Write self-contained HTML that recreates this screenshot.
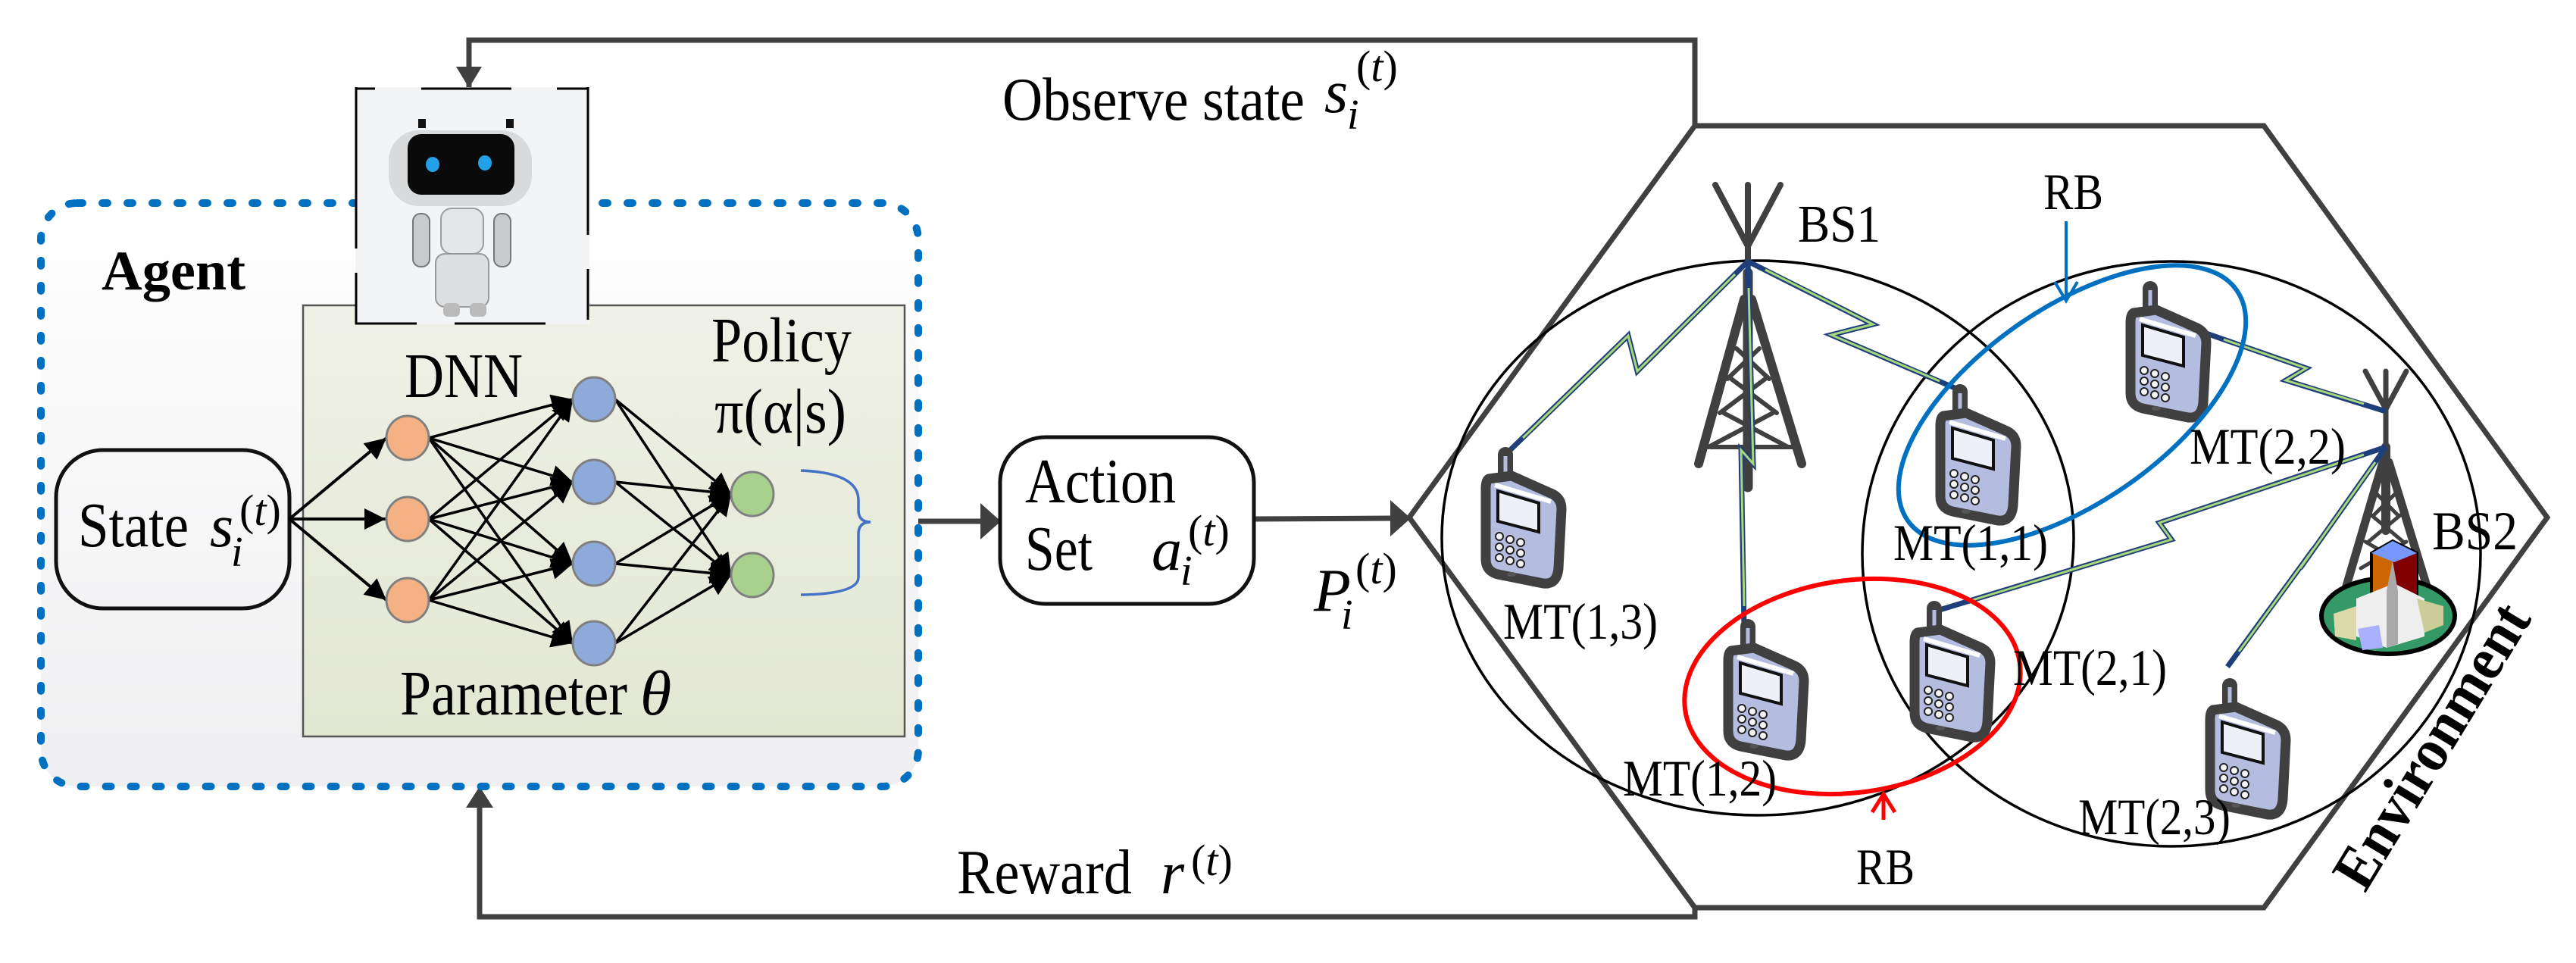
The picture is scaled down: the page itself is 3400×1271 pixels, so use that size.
<!DOCTYPE html>
<html><head><meta charset="utf-8"><style>html,body{margin:0;padding:0;background:#fff}svg{display:block}svg text{font-family:"Liberation Serif","Times New Roman",serif}</style></head><body>
<svg width="3400" height="1271" viewBox="0 0 3400 1271" xmlns="http://www.w3.org/2000/svg">
<defs>
<linearGradient id="ag" x1="0" y1="0" x2="0" y2="1"><stop offset="0" stop-color="#ffffff"/><stop offset="1" stop-color="#efeff1"/></linearGradient>
<linearGradient id="gg" x1="0" y1="0" x2="0" y2="1"><stop offset="0" stop-color="#eff1e6"/><stop offset="1" stop-color="#e2e7d2"/></linearGradient>
<marker id="bh" viewBox="0 0 10 10" refX="10" refY="5" markerWidth="36" markerHeight="28" orient="auto" markerUnits="userSpaceOnUse"><path d="M0,0 L10,5 L0,10 Z" fill="#000"/></marker>
<g id="phone">
<line x1="0" y1="0" x2="0" y2="34" stroke="#404040" stroke-width="20" stroke-linecap="round"/>
<line x1="0" y1="2" x2="0" y2="30" stroke="#b4bce0" stroke-width="5"/>
<path d="M-22,32 L8,28 L62,52 Q74,58 74,72 L70,150 Q68,172 50,170 L-10,158 Q-26,154 -26,138 L-26,45 Q-26,34 -22,32 Z" fill="#b4bce0" stroke="#404040" stroke-width="13" stroke-linejoin="round"/>
<path d="M-14,40 L60,62" stroke="#fff" stroke-width="6"/>
<polygon points="-10,48 44,64 44,102 -10,88" fill="#eef0f8" stroke="#111" stroke-width="4"/>
<g fill="#f4f4f4" stroke="#222" stroke-width="2">
<circle cx="-8" cy="108" r="5"/><circle cx="6" cy="112" r="5"/><circle cx="20" cy="116" r="5"/>
<circle cx="-8" cy="122" r="5"/><circle cx="6" cy="126" r="5"/><circle cx="20" cy="130" r="5"/>
<circle cx="-8" cy="136" r="5"/><circle cx="6" cy="140" r="5"/><circle cx="20" cy="144" r="5"/>
</g>
<ellipse cx="8" cy="158" rx="6" ry="3" fill="#555"/>
</g>
</defs>

<g stroke="#404040" stroke-width="7" fill="none">
<polyline points="619,118 619,53 2237,53 2237,166"/>
<polyline points="633,1062 633,1210 2237,1210 2237,1198"/>
<line x1="1149" y1="688" x2="1296" y2="688"/>
<line x1="1655" y1="685" x2="1838" y2="684"/>
</g>
<polygon points="602,88 636,88 619,116" fill="#404040"/>
<polygon points="615,1066 651,1066 633,1038" fill="#404040"/>
<polygon points="1294,664 1294,712 1321,688" fill="#404040"/>
<polygon points="1835,660 1835,708 1862,684" fill="#404040"/>

<rect x="54" y="268" width="1158" height="770" rx="48" fill="url(#ag)" stroke="#0070c0" stroke-width="10" stroke-dasharray="7 26" stroke-linecap="round"/>
<text x="134" y="382" font-size="74" font-weight="bold" textLength="190" lengthAdjust="spacingAndGlyphs">Agent</text>

<rect x="400" y="403" width="794" height="569" fill="url(#gg)" stroke="#555" stroke-width="2.5"/>

<!-- robot -->
<rect x="469" y="115" width="309" height="313" fill="#f2f4f6"/>
<g stroke="#000" stroke-width="3" fill="none">
<line x1="469" y1="117" x2="495" y2="117"/><line x1="556" y1="117" x2="675" y2="117"/><line x1="735" y1="117" x2="777" y2="117"/>
<line x1="470" y1="115" x2="470" y2="328"/><line x1="470" y1="360" x2="470" y2="428"/>
<line x1="776" y1="115" x2="776" y2="310"/><line x1="776" y1="355" x2="776" y2="422"/>
<line x1="469" y1="427" x2="550" y2="427"/><line x1="600" y1="427" x2="720" y2="427"/>
</g>
<rect x="552" y="157" width="10" height="12" fill="#111"/><rect x="668" y="157" width="10" height="12" fill="#111"/>
<rect x="513" y="172" width="189" height="100" rx="40" fill="#d8dadc"/>
<rect x="538" y="177" width="141" height="80" rx="18" fill="#0a0a0a"/>
<ellipse cx="571" cy="217" rx="9" ry="10" fill="#22a0e8"/><ellipse cx="640" cy="215" rx="9" ry="10" fill="#22a0e8"/>
<rect x="582" y="275" width="56" height="60" rx="14" fill="#e4e6e8" stroke="#9a9ea2" stroke-width="2"/>
<rect x="575" y="335" width="70" height="70" rx="12" fill="#dcdfe2" stroke="#999" stroke-width="2"/>
<rect x="545" y="282" width="22" height="70" rx="10" fill="#c8cbce" stroke="#777" stroke-width="2"/>
<rect x="652" y="282" width="22" height="70" rx="10" fill="#c8cbce" stroke="#777" stroke-width="2"/>
<rect x="585" y="400" width="22" height="18" rx="6" fill="#bbb"/><rect x="620" y="400" width="22" height="18" rx="6" fill="#bbb"/>

<rect x="74" y="594" width="308" height="209" rx="62" fill="none" stroke="#111" stroke-width="5"/>
<text x="103" y="721" font-size="84" textLength="146" lengthAdjust="spacingAndGlyphs">State</text>
<text x="277" y="721" font-size="80" font-style="italic">s</text>
<text x="305" y="747" font-size="56" font-style="italic">i</text>
<text x="316" y="693" font-size="58">(<tspan font-style="italic">t</tspan>)</text>

<g stroke="#000" stroke-width="4" marker-end="url(#bh)">
<line x1="382" y1="685" x2="510" y2="578"/>
<line x1="382" y1="685" x2="509" y2="685"/>
<line x1="382" y1="685" x2="510" y2="792"/>
</g>
<g stroke="#000" stroke-width="3.5" marker-end="url(#bh)">
<line x1="566" y1="578" x2="756" y2="527"/><line x1="566" y1="578" x2="756" y2="636"/><line x1="566" y1="578" x2="756" y2="744"/><line x1="566" y1="578" x2="756" y2="849"/>
<line x1="566" y1="685" x2="756" y2="527"/><line x1="566" y1="685" x2="756" y2="636"/><line x1="566" y1="685" x2="756" y2="744"/><line x1="566" y1="685" x2="756" y2="849"/>
<line x1="566" y1="792" x2="756" y2="527"/><line x1="566" y1="792" x2="756" y2="636"/><line x1="566" y1="792" x2="756" y2="744"/><line x1="566" y1="792" x2="756" y2="849"/>
<line x1="812" y1="527" x2="965" y2="652"/><line x1="812" y1="527" x2="965" y2="759"/>
<line x1="812" y1="636" x2="965" y2="652"/><line x1="812" y1="636" x2="965" y2="759"/>
<line x1="812" y1="744" x2="965" y2="652"/><line x1="812" y1="744" x2="965" y2="759"/>
<line x1="812" y1="849" x2="965" y2="652"/><line x1="812" y1="849" x2="965" y2="759"/>
</g>
<g stroke="#808080" stroke-width="3">
<ellipse cx="538" cy="578" rx="28" ry="29" fill="#f4b183"/><ellipse cx="538" cy="685" rx="28" ry="29" fill="#f4b183"/><ellipse cx="538" cy="792" rx="28" ry="29" fill="#f4b183"/>
<ellipse cx="784" cy="527" rx="28" ry="29" fill="#8eaadb"/><ellipse cx="784" cy="636" rx="28" ry="29" fill="#8eaadb"/><ellipse cx="784" cy="744" rx="28" ry="29" fill="#8eaadb"/><ellipse cx="784" cy="849" rx="28" ry="29" fill="#8eaadb"/>
<ellipse cx="993" cy="652" rx="28" ry="29" fill="#a9d18e"/><ellipse cx="993" cy="759" rx="28" ry="29" fill="#a9d18e"/>
</g>
<path d="M1057,621 Q1133,624 1133,660 L1133,673 Q1133,689 1149,689 Q1133,689 1133,705 L1133,762 Q1133,784 1057,785" fill="none" stroke="#4472c4" stroke-width="3.5"/>
<text x="534" y="524" font-size="84" textLength="156" lengthAdjust="spacingAndGlyphs">DNN</text>
<text x="939" y="477" font-size="84" textLength="185" lengthAdjust="spacingAndGlyphs">Policy</text>
<text x="943" y="571" font-size="84" textLength="174" lengthAdjust="spacingAndGlyphs">π(α|s)</text>
<text x="528" y="943" font-size="84" textLength="300" lengthAdjust="spacingAndGlyphs">Parameter</text>
<text x="845" y="943" font-size="84" font-style="italic">θ</text>

<rect x="1320" y="577" width="335" height="220" rx="60" fill="#fff" stroke="#111" stroke-width="5"/>
<text x="1353" y="663" font-size="84" textLength="199" lengthAdjust="spacingAndGlyphs">Action</text>
<text x="1353" y="752" font-size="84" textLength="89" lengthAdjust="spacingAndGlyphs">Set</text>
<text x="1520" y="752" font-size="80" font-style="italic">a</text>
<text x="1558" y="772" font-size="56" font-style="italic">i</text>
<text x="1568" y="720" font-size="58">(<tspan font-style="italic">t</tspan>)</text>

<text x="1734" y="806" font-size="80" font-style="italic">P</text>
<text x="1770" y="830" font-size="56" font-style="italic">i</text>
<text x="1789" y="770" font-size="58">(<tspan font-style="italic">t</tspan>)</text>

<text x="1323" y="158" font-size="80" textLength="399" lengthAdjust="spacingAndGlyphs">Observe state</text>
<text x="1748" y="148" font-size="80" font-style="italic">s</text>
<text x="1778" y="170" font-size="56" font-style="italic">i</text>
<text x="1790" y="107" font-size="58">(<tspan font-style="italic">t</tspan>)</text>
<text x="1263" y="1179" font-size="84" textLength="231" lengthAdjust="spacingAndGlyphs">Reward</text>
<text x="1532" y="1179" font-size="80" font-style="italic">r</text>
<text x="1572" y="1155" font-size="58">(<tspan font-style="italic">t</tspan>)</text>

<polygon points="2237,166 2988,166 3362,683 2988,1198 2237,1198 1860,683" fill="none" stroke="#404040" stroke-width="7"/>

<ellipse cx="2320" cy="710" rx="417" ry="366" fill="none" stroke="#000" stroke-width="3.5"/>
<ellipse cx="2866" cy="731" rx="408" ry="386" fill="none" stroke="#000" stroke-width="3.5"/>

<g stroke="#404040" stroke-linecap="round" fill="none">
<line x1="2264" y1="244" x2="2307" y2="325" stroke-width="8"/><line x1="2350" y1="244" x2="2307" y2="325" stroke-width="8"/><line x1="2307" y1="244" x2="2307" y2="345" stroke-width="8"/>
<line x1="2307" y1="360" x2="2307" y2="643" stroke-width="13"/>
<path d="M2302,395 L2242,612 M2312,395 L2378,612" stroke-width="12"/>
<path d="M2292,460 L2335,500 M2322,460 L2280,500 M2285,500 L2345,545 M2330,500 L2270,545 M2275,545 L2360,590 M2340,545 L2255,590 M2258,590 L2372,590" stroke-width="6"/>
</g>
<g stroke="#404040" stroke-linecap="round" fill="none">
<line x1="3122" y1="490" x2="3149" y2="540" stroke-width="7"/><line x1="3176" y1="490" x2="3149" y2="540" stroke-width="7"/><line x1="3149" y1="490" x2="3149" y2="590" stroke-width="7"/>
<line x1="3149" y1="590" x2="3149" y2="700" stroke-width="12"/>
<path d="M3145,610 L3095,780 M3153,610 L3205,780" stroke-width="11"/>
<path d="M3135,650 L3165,680 M3163,650 L3133,680 M3130,680 L3172,715 M3168,680 L3126,715 M3122,715 L3182,750 M3176,715 L3116,750" stroke-width="5"/>
</g>
<ellipse cx="3152" cy="813" rx="88" ry="50" fill="#339966" stroke="#000" stroke-width="6"/>
<polygon points="3130,730 3158,714 3190,730 3190,790 3130,790" fill="#cc6600" stroke="#000" stroke-width="4"/>
<polygon points="3158,740 3190,730 3190,790 3160,795" fill="#800000"/>
<polygon points="3130,730 3158,714 3190,730 3160,742" fill="#7799ff"/>
<polygon points="3110,790 3160,770 3200,790 3200,840 3150,855 3110,840" fill="#eee"/>
<polygon points="3158,740 3165,780 3165,850 3150,855 3150,780" fill="#aaa"/>
<polygon points="3080,810 3110,800 3110,845 3082,840" fill="#ddd8a8"/>
<polygon points="3190,790 3225,800 3225,825 3200,835" fill="#cccc99"/>
<polygon points="3112,830 3140,825 3145,855 3118,858" fill="#aab0ff"/>

<g fill="none">
<g stroke="#1f3f7a" stroke-width="7">
<polyline points="2307,345 2161,490 2149,443 1987,600"/>
<polyline points="2307,345 2472,428 2417,442 2587,515"/>
<polyline points="2307,345 2314,612 2298,594 2302,827"/>
<polyline points="3149,543 3017,502 3044,486 2912,440"/>
<polyline points="3149,590 2850,690 2866,712 2560,805"/>
<polyline points="3149,590 3036,750 3054,724 2940,880"/>
</g>
<g stroke="#a9d77a" stroke-width="3">
<polyline points="2290,362 2161,490 2149,443 2010,578"/>
<polyline points="2330,356 2472,428 2417,442 2560,503"/>
<polyline points="2308,380 2314,612 2298,594 2302,800"/>
<polyline points="3120,533 3017,502 3044,486 2935,448"/>
<polyline points="3120,600 2850,690 2866,712 2600,793"/>
<polyline points="3135,610 3036,750 3054,724 2955,860"/>
</g>
</g>

<use href="#phone" x="1987" y="600"/>
<use href="#phone" x="2587" y="517"/>
<use href="#phone" x="2838" y="381"/>
<use href="#phone" x="2307" y="827"/>
<use href="#phone" x="2553" y="803"/>
<use href="#phone" x="2943" y="905"/>

<ellipse cx="2735" cy="535" rx="265" ry="128" transform="rotate(-35 2735 535)" fill="none" stroke="#0070c0" stroke-width="6"/>
<ellipse cx="2445" cy="906" rx="223" ry="140" transform="rotate(-8 2445 906)" fill="none" stroke="#ff0000" stroke-width="6"/>
<line x1="2727" y1="292" x2="2727" y2="395" stroke="#0070c0" stroke-width="4"/>
<path d="M2712,372 L2727,397 L2742,372" fill="none" stroke="#0070c0" stroke-width="4"/>
<line x1="2486" y1="1082" x2="2486" y2="1048" stroke="#ff0000" stroke-width="5"/>
<path d="M2471,1072 L2486,1048 L2501,1072" fill="none" stroke="#ff0000" stroke-width="5"/>

<g font-size="68">
<text x="2373" y="319" font-size="70" textLength="109" lengthAdjust="spacingAndGlyphs">BS1</text>
<text x="3210" y="725" font-size="72" textLength="113" lengthAdjust="spacingAndGlyphs">BS2</text>
<text x="2697" y="276" textLength="79" lengthAdjust="spacingAndGlyphs">RB</text>
<text x="2450" y="1167" textLength="77" lengthAdjust="spacingAndGlyphs">RB</text>
<text x="1984" y="843" textLength="204" lengthAdjust="spacingAndGlyphs">MT(1,3)</text>
<text x="2499" y="739" textLength="204" lengthAdjust="spacingAndGlyphs">MT(1,1)</text>
<text x="2890" y="612" textLength="206" lengthAdjust="spacingAndGlyphs">MT(2,2)</text>
<text x="2142" y="1050" textLength="203" lengthAdjust="spacingAndGlyphs">MT(1,2)</text>
<text x="2657" y="904" textLength="203" lengthAdjust="spacingAndGlyphs">MT(2,1)</text>
<text x="2743" y="1101" textLength="201" lengthAdjust="spacingAndGlyphs">MT(2,3)</text>
</g>
<text x="0" y="0" font-size="80" font-weight="bold" text-anchor="middle" textLength="425" lengthAdjust="spacingAndGlyphs" transform="translate(3232,998) rotate(-58.7)">Environment</text>
</svg>
</body></html>
